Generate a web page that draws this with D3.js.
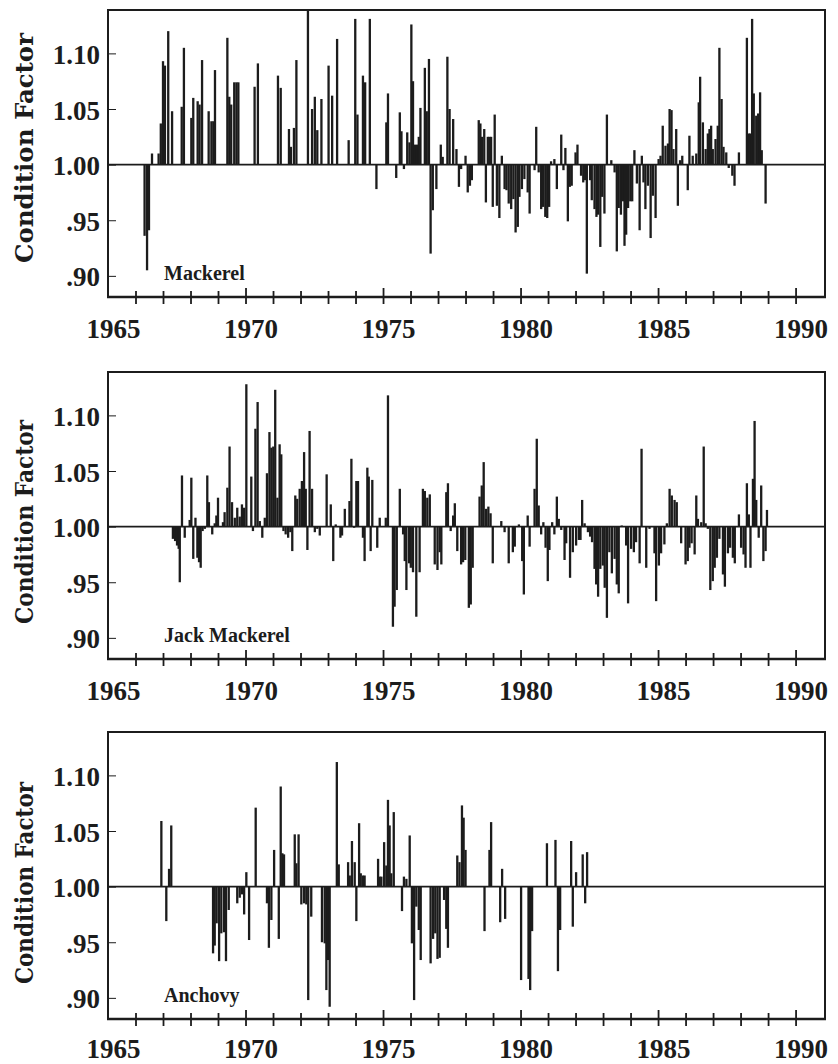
<!DOCTYPE html>
<html>
<head>
<meta charset="utf-8">
<script src="https://cdn.jsdelivr.net/npm/d3@7"></script>
<style>
  body { margin: 0; background: #fff; }
  svg { display: block; }
  .num { font-family: "Liberation Serif", serif; font-weight: bold; font-size: 27px; fill: #1c1c1c; }
  .ytitle { font-family: "DejaVu Serif", serif; font-weight: bold; font-size: 24px; fill: #1c1c1c; }
  .species { font-family: "Liberation Serif", serif; font-weight: bold; font-size: 20px; fill: #1c1c1c; }
</style>
</head>
<body>
<svg id="chart" width="838" height="1064"></svg>
<script>
// condition factor by month, [decimal year, value]

var mackerel = [
  [1966.33,0.936],[1966.42,0.905],[1966.49,0.941],[1966.60,1.010],[1966.84,1.010],[1966.92,1.037],
  [1967.00,1.093],[1967.07,1.089],[1967.19,1.120],[1967.33,1.048],[1967.68,1.052],[1967.76,1.105],
  [1968.03,1.042],[1968.10,1.060],[1968.26,1.057],[1968.33,1.054],[1968.42,1.094],[1968.66,1.048],
  [1968.76,1.039],[1968.83,1.039],[1968.89,1.085],[1969.34,1.114],[1969.41,1.061],[1969.48,1.054],
  [1969.59,1.074],[1969.67,1.074],[1969.74,1.074],[1970.33,1.070],[1970.45,1.091],[1971.18,1.080],
  [1971.28,1.069],[1971.58,1.032],[1971.65,1.016],[1971.76,1.033],[1971.85,1.094],[1972.27,1.140],
  [1972.42,1.050],[1972.52,1.061],[1972.61,1.031],[1972.76,1.059],[1973.02,1.089],[1973.15,1.062],
  [1973.33,1.113],[1973.75,1.022],[1973.99,1.131],[1974.07,1.045],[1974.27,1.080],[1974.35,1.074],
  [1974.52,1.131],[1974.76,0.978],[1975.12,1.038],[1975.18,1.064],[1975.48,0.988],[1975.61,1.047],
  [1975.67,1.030],[1975.76,0.996],[1975.88,1.029],[1975.96,1.020],[1976.03,1.126],[1976.09,1.075],
  [1976.16,1.018],[1976.24,1.018],[1976.30,1.025],[1976.36,1.051],[1976.52,1.087],[1976.59,1.048],
  [1976.67,1.095],[1976.73,0.920],[1976.81,0.959],[1976.94,0.978],[1977.10,1.018],[1977.17,1.007],
  [1977.34,1.097],[1977.42,1.050],[1977.55,1.041],[1977.67,1.014],[1977.76,0.980],[1977.84,0.996],
  [1978.00,1.008],[1978.08,0.975],[1978.16,0.981],[1978.23,0.986],[1978.48,1.040],[1978.54,1.037],
  [1978.60,1.025],[1978.68,1.032],[1978.74,0.966],[1978.81,1.025],[1978.87,1.025],[1978.93,1.025],
  [1978.99,0.962],[1979.06,1.045],[1979.14,0.963],[1979.23,0.952],[1979.32,1.008],[1979.42,0.978],
  [1979.49,0.977],[1979.57,0.965],[1979.66,0.960],[1979.74,0.969],[1979.82,0.939],[1979.90,0.944],
  [1979.96,0.971],[1980.05,0.978],[1980.14,0.987],[1980.26,0.975],[1980.33,0.956],[1980.51,0.995],
  [1980.57,1.034],[1980.66,0.993],[1980.75,0.960],[1980.82,0.962],[1980.90,0.953],[1980.97,0.952],
  [1981.04,0.962],[1981.11,1.003],[1981.23,1.005],[1981.32,0.978],[1981.48,1.027],[1981.56,0.995],
  [1981.63,1.015],[1981.72,0.949],[1981.79,0.980],[1981.86,0.981],[1982.00,1.011],[1982.07,1.018],
  [1982.20,0.990],[1982.28,0.984],[1982.35,0.986],[1982.41,0.902],[1982.53,0.986],[1982.59,0.968],
  [1982.69,0.960],[1982.76,0.953],[1982.82,0.955],[1982.90,0.926],[1982.97,0.971],[1983.05,0.956],
  [1983.14,1.045],[1983.30,1.004],[1983.42,0.993],[1983.50,0.922],[1983.57,0.961],[1983.65,0.955],
  [1983.72,0.967],[1983.78,0.927],[1983.84,0.937],[1983.91,0.961],[1983.99,0.967],[1984.06,0.967],
  [1984.14,1.013],[1984.23,0.983],[1984.33,0.941],[1984.41,1.008],[1984.47,0.984],[1984.54,0.960],
  [1984.63,0.981],[1984.73,0.934],[1984.81,0.972],[1984.91,0.952],[1985.02,1.005],[1985.09,1.008],
  [1985.17,1.035],[1985.27,1.017],[1985.36,1.019],[1985.42,1.050],[1985.49,1.049],[1985.56,1.014],
  [1985.66,1.032],[1985.72,0.963],[1985.80,1.004],[1985.88,1.008],[1986.08,0.977],[1986.14,1.026],
  [1986.26,1.008],[1986.39,1.010],[1986.48,1.056],[1986.53,1.079],[1986.63,1.038],[1986.73,1.014],
  [1986.81,1.028],[1986.87,1.032],[1986.93,1.035],[1986.99,1.014],[1987.09,1.023],[1987.17,1.035],
  [1987.23,1.105],[1987.31,1.059],[1987.38,1.016],[1987.48,1.011],[1987.57,0.997],[1987.70,0.990],
  [1987.78,0.981],[1987.94,1.011],[1988.23,1.114],[1988.30,1.028],[1988.36,1.028],[1988.42,1.131],
  [1988.48,1.064],[1988.57,1.044],[1988.64,1.046],[1988.71,1.065],[1988.77,1.013],[1988.91,0.965]
];

var jackMackerel = [
  [1967.36,0.989],[1967.44,0.987],[1967.51,0.983],[1967.57,0.980],[1967.61,0.950],[1967.69,1.046],
  [1967.79,0.990],[1967.97,1.006],[1968.03,1.044],[1968.10,0.971],[1968.18,1.008],[1968.25,0.972],
  [1968.31,0.968],[1968.37,0.963],[1968.44,0.996],[1968.52,0.998],[1968.61,1.046],[1968.67,1.022],
  [1968.79,0.993],[1968.88,1.003],[1968.94,1.010],[1969.00,1.026],[1969.18,1.004],[1969.24,1.013],
  [1969.34,1.035],[1969.42,1.072],[1969.51,1.022],[1969.61,1.008],[1969.70,1.017],[1969.79,1.009],
  [1969.87,1.020],[1969.95,1.017],[1970.03,1.128],[1970.21,1.045],[1970.27,0.996],[1970.36,1.088],
  [1970.44,1.112],[1970.52,1.005],[1970.61,0.990],[1970.70,1.008],[1970.78,1.048],[1970.87,1.085],
  [1970.94,1.071],[1971.01,1.072],[1971.08,1.123],[1971.16,1.026],[1971.24,1.074],[1971.30,1.065],
  [1971.38,0.996],[1971.46,0.993],[1971.55,0.990],[1971.63,0.995],[1971.70,0.978],[1971.81,1.028],
  [1971.88,1.025],[1971.97,1.034],[1972.05,1.041],[1972.13,1.067],[1972.19,1.034],[1972.25,0.979],
  [1972.33,1.086],[1972.42,1.034],[1972.52,0.995],[1972.61,0.998],[1972.70,0.992],[1972.95,1.047],
  [1973.10,1.020],[1973.19,0.969],[1973.28,1.002],[1973.45,0.990],[1973.51,0.992],[1973.61,1.016],
  [1973.78,1.023],[1973.85,1.061],[1973.95,0.999],[1974.03,1.041],[1974.09,1.041],[1974.27,0.990],
  [1974.33,0.969],[1974.43,1.053],[1974.48,1.045],[1974.55,0.978],[1974.61,1.042],[1974.79,0.981],
  [1974.88,1.008],[1975.10,1.008],[1975.18,1.118],[1975.36,0.910],[1975.42,0.928],[1975.50,0.943],
  [1975.61,1.034],[1975.73,0.993],[1975.79,0.969],[1975.85,0.943],[1975.95,0.967],[1976.01,0.963],
  [1976.09,0.959],[1976.21,0.919],[1976.33,0.959],[1976.45,1.034],[1976.52,1.032],[1976.61,1.026],
  [1976.70,1.029],[1976.88,0.966],[1976.98,0.961],[1977.06,0.977],[1977.12,0.966],[1977.30,1.031],
  [1977.36,1.039],[1977.46,0.996],[1977.55,1.010],[1977.61,1.021],[1977.70,0.978],[1977.84,0.966],
  [1977.91,0.968],[1977.99,0.970],[1978.12,0.927],[1978.19,0.930],[1978.26,0.963],[1978.51,1.027],
  [1978.59,1.037],[1978.66,1.058],[1978.75,1.016],[1978.83,1.018],[1978.91,1.012],[1978.99,0.967],
  [1979.30,1.005],[1979.42,0.995],[1979.57,0.967],[1979.72,0.977],[1979.79,0.982],[1979.94,1.002],
  [1980.06,0.969],[1980.12,0.939],[1980.26,1.010],[1980.33,0.982],[1980.51,1.034],[1980.59,1.079],
  [1980.66,1.019],[1980.75,0.993],[1980.83,1.004],[1980.91,0.981],[1980.99,0.951],[1981.05,0.979],
  [1981.15,1.004],[1981.23,0.993],[1981.32,1.027],[1981.39,1.007],[1981.48,0.997],[1981.60,0.970],
  [1981.66,0.985],[1981.80,0.954],[1981.90,0.977],[1982.02,0.983],[1982.12,0.988],[1982.18,0.988],
  [1982.24,1.024],[1982.33,1.003],[1982.45,0.995],[1982.53,0.991],[1982.60,0.986],[1982.69,0.962],
  [1982.75,0.948],[1982.82,0.937],[1982.90,0.962],[1982.99,0.965],[1983.06,0.945],[1983.14,0.918],
  [1983.23,0.977],[1983.32,0.958],[1983.42,0.971],[1983.50,0.948],[1983.57,0.940],[1983.68,1.001],
  [1983.84,0.983],[1983.91,0.931],[1984.02,0.980],[1984.12,0.977],[1984.20,0.986],[1984.33,0.967],
  [1984.40,1.070],[1984.57,0.963],[1984.69,0.998],[1984.87,0.976],[1984.93,0.933],[1985.03,0.965],
  [1985.11,0.976],[1985.23,0.984],[1985.32,1.003],[1985.42,1.034],[1985.50,1.028],[1985.60,1.024],
  [1985.68,1.022],[1985.84,0.985],[1986.00,0.966],[1986.08,0.969],[1986.14,0.981],[1986.22,0.985],
  [1986.33,0.975],[1986.39,1.028],[1986.45,1.007],[1986.57,1.004],[1986.66,1.072],[1986.73,1.003],
  [1986.81,0.998],[1986.90,0.943],[1986.99,0.951],[1987.06,0.963],[1987.14,0.972],[1987.23,0.989],
  [1987.36,0.957],[1987.43,0.946],[1987.54,0.976],[1987.62,0.981],[1987.72,0.972],[1987.79,0.967],
  [1987.94,1.011],[1988.02,0.981],[1988.11,0.975],[1988.18,0.963],[1988.23,1.039],[1988.30,1.011],
  [1988.36,0.963],[1988.45,1.043],[1988.51,1.095],[1988.57,1.024],[1988.66,0.990],[1988.75,1.037],
  [1988.83,0.969],[1988.91,0.978],[1988.96,1.015]
];

var anchovy = [
  [1966.94,1.059],[1967.12,0.969],[1967.22,1.016],[1967.30,1.055],[1968.82,0.940],[1968.88,0.947],
  [1968.95,0.967],[1969.04,0.933],[1969.12,0.958],[1969.22,0.959],[1969.29,0.933],[1969.39,0.979],
  [1969.70,0.985],[1969.79,0.990],[1969.87,0.993],[1969.95,0.975],[1970.03,1.013],[1970.13,0.952],
  [1970.37,1.071],[1970.78,0.985],[1970.85,0.945],[1970.94,0.970],[1971.04,1.033],[1971.21,0.953],
  [1971.28,1.090],[1971.34,1.030],[1971.40,1.029],[1971.79,1.047],[1971.85,1.021],[1971.93,1.047],
  [1972.03,0.984],[1972.13,0.985],[1972.21,0.984],[1972.28,0.898],[1972.39,0.973],[1972.78,0.950],
  [1972.88,0.949],[1972.94,0.907],[1973.00,0.934],[1973.06,0.892],[1973.32,1.112],[1973.39,1.020],
  [1973.73,1.022],[1973.79,1.010],[1973.87,1.041],[1973.97,1.022],[1974.03,0.969],[1974.13,1.057],
  [1974.19,1.012],[1974.27,1.010],[1974.33,1.010],[1974.82,1.025],[1974.88,1.009],[1974.94,1.009],
  [1975.04,1.040],[1975.12,1.019],[1975.18,1.078],[1975.24,1.055],[1975.30,1.012],[1975.39,1.067],
  [1975.69,0.978],[1975.76,1.009],[1975.85,1.007],[1975.97,1.046],[1976.05,0.949],[1976.13,0.898],
  [1976.21,0.982],[1976.30,0.961],[1976.37,0.934],[1976.73,0.931],[1976.82,0.953],[1976.90,0.958],
  [1976.98,0.935],[1977.06,0.936],[1977.22,0.988],[1977.30,0.962],[1977.36,0.945],[1977.70,1.028],
  [1977.78,1.022],[1977.87,1.073],[1977.93,1.062],[1978.00,1.033],[1978.69,0.960],[1978.87,1.033],
  [1978.93,1.058],[1979.26,0.968],[1979.33,1.016],[1979.44,0.971],[1980.02,0.916],[1980.29,0.917],
  [1980.35,0.907],[1980.42,0.960],[1980.96,1.039],[1981.27,1.042],[1981.36,0.924],[1981.44,0.961],
  [1981.84,1.041],[1981.90,0.964],[1982.02,1.013],[1982.26,1.029],[1982.35,0.985],[1982.42,1.031]
];

var yTicks = [0.90, 0.95, 1.00, 1.05, 1.10];
var yTickLabels = [".90", ".95", "1.00", "1.05", "1.10"];
var xYears = d3.range(1965, 1991);          // one tick per year
var xLabelYears = [1965, 1970, 1975, 1980, 1985, 1990];
var speciesNames = ["Mackerel", "Jack Mackerel", "Anchovy"];
var yTitle = "Condition Factor";

// panel placement
var panels = [
  { data: mackerel,     top: 10,  bottom: 297, titleLen: 230, titleMid: 148, labelGap: 41 },
  { data: jackMackerel, top: 372, bottom: 659, titleLen: 204, titleMid: 522, labelGap: 41 },
  { data: anchovy,      top: 732, bottom: 1019, titleLen: 202, titleMid: 883, labelGap: 39 }
];

var left = 108, right = 825;
var ink = "#1c1c1c";
var svg = d3.select("#chart");

var x = d3.scaleLinear().domain([1965, 1991.07]).range([left, right]);

panels.forEach(function(p, i) {
  var y = d3.scaleLinear().domain([0.881, 1.139]).range([p.bottom, p.top]);
  var g = svg.append("g");

  // bars hanging off the 1.00 line
  g.selectAll("rect.bar").data(p.data).enter().append("rect")
    .attr("class", "bar")
    .attr("x", function(d) { return x(d[0]) - 1.15; })
    .attr("width", 2.3)
    .attr("y", function(d) { return Math.min(y(Math.min(d[1], 1.139)), y(1)); })
    .attr("height", function(d) { return Math.abs(y(Math.min(d[1], 1.139)) - y(1)); })
    .attr("fill", ink);

  // reference line at 1.00
  g.append("line")
    .attr("x1", left).attr("x2", right)
    .attr("y1", y(1)).attr("y2", y(1))
    .attr("stroke", ink).attr("stroke-width", 1.6);

  // y axis, ticks pointing inward
  var yAxis = d3.axisLeft(y).tickValues(yTicks).tickSize(-8).tickPadding(8)
    .tickFormat(function(d, k) { return yTickLabels[k]; });
  var ga = g.append("g").attr("transform", "translate(" + left + ",0)").call(yAxis);
  ga.select(".domain").remove();
  ga.attr("font-size", null).attr("font-family", null);
  ga.selectAll("line").attr("stroke", ink).attr("stroke-width", 1);
  ga.selectAll("text").attr("class", "num").attr("dy", "0.37em");

  // x axis, ticks crossing the line
  var xAxis = d3.axisBottom(x).tickValues(xYears).tickSize(7)
    .tickFormat(function(d) { return xLabelYears.indexOf(d) >= 0 ? d : ""; });
  var gx = g.append("g").attr("transform", "translate(0," + p.bottom + ")").call(xAxis);
  gx.select(".domain").remove();
  gx.attr("font-size", null).attr("font-family", null);
  gx.selectAll(".tick line")
    .attr("y1", function(d) { return d % 5 == 0 ? -9 : -6; })
    .attr("y2", 7)
    .attr("stroke", ink).attr("stroke-width", 1.8)
    .attr("display", function(d) { return d == 1965 ? "none" : null; });
  gx.selectAll(".tick text")
    .attr("class", "num").attr("y", p.labelGap).attr("dy", null).attr("x", 5);

  // frame
  g.append("path")
    .attr("d", "M" + left + "," + p.bottom + "V" + p.top + "H" + right + "V" + p.bottom)
    .attr("fill", "none").attr("stroke", ink).attr("stroke-width", 2);
  g.append("line")
    .attr("x1", left - 1).attr("x2", right + 1)
    .attr("y1", p.bottom).attr("y2", p.bottom)
    .attr("stroke", ink).attr("stroke-width", 2.6);

  // labels
  g.append("text").attr("class", "ytitle")
    .attr("transform", "translate(33," + p.titleMid + ") rotate(-90)")
    .attr("text-anchor", "middle")
    .attr("textLength", p.titleLen).attr("lengthAdjust", "spacingAndGlyphs")
    .text(yTitle);

  g.append("text").attr("class", "species")
    .attr("x", 164).attr("y", p.bottom - 17)
    .text(speciesNames[i]);
});
</script>
</body>
</html>
